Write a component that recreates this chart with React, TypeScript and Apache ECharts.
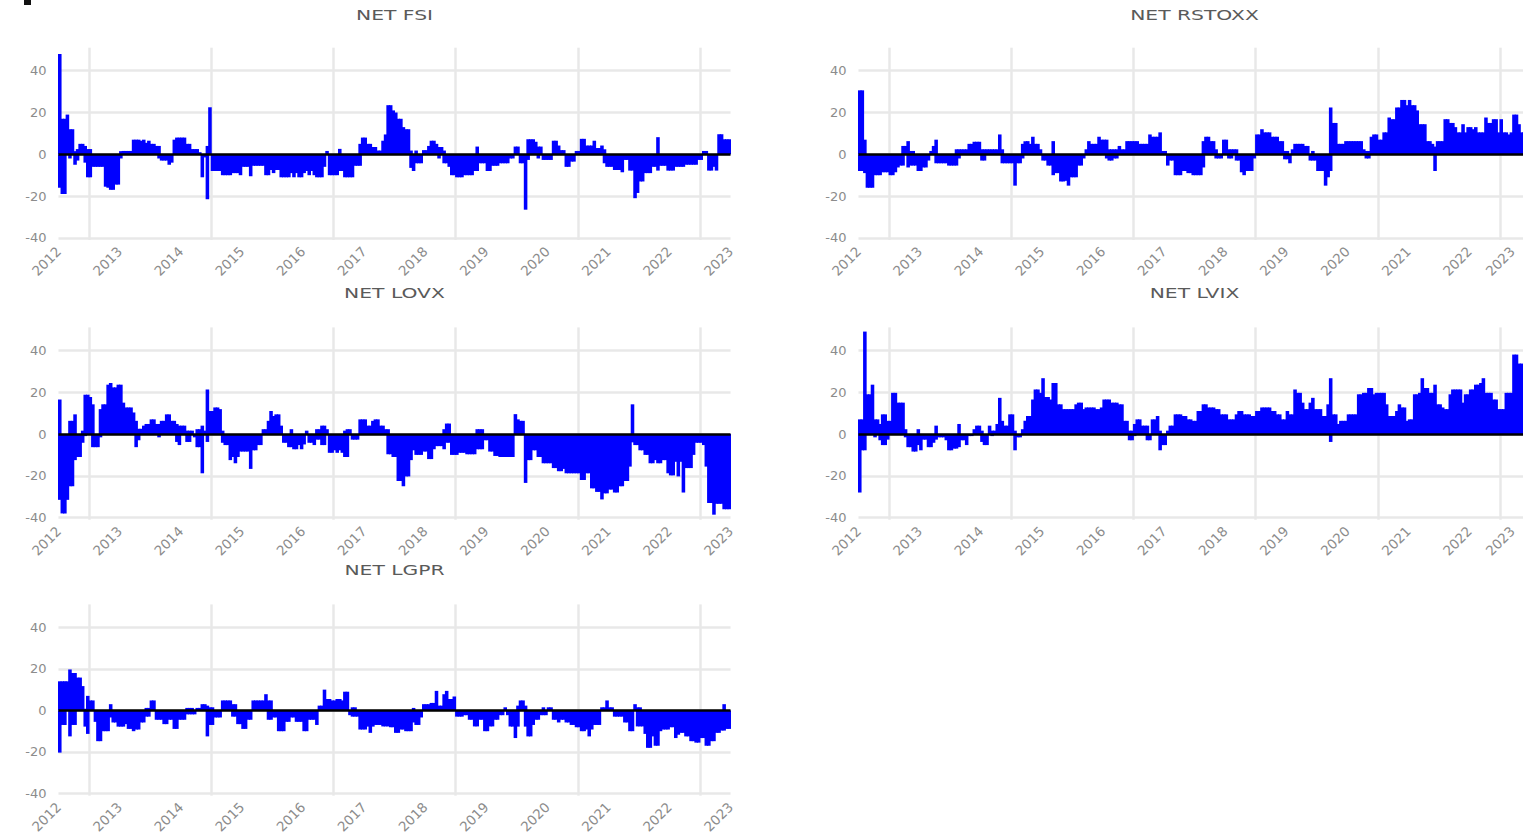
import React, { useEffect, useRef } from 'react';
import * as echarts from 'echarts';

const years = ['2012', '2013', '2014', '2015', '2016', '2017', '2018', '2019', '2020', '2021', '2022', '2023'];
const yTicks = [-40, -20, 0, 20, 40];
const titles = ['NET FSI', 'NET RSTOXX', 'NET LOVX', 'NET LVIX', 'NET LGPR'];
const startYear = 2012;
const periodsPerYear = 24;

// Net values, one per half-month from 2012 to 2023
const netFSI = [
  48, 17, 17, 19, 12, 12, 1.5, 2.5, 5, 5, 4, -11, -11, -6, -6, -6, -6, -6, -15.5, -16, -17, -17, -14.5, -14.5,
  1.5, 1.6, 1.6, 1.6, 1.6, 7, 7, 7, 6.5, 7, 5.5, 6.5, 5, 5, 4, 4, -3, -3, -3, -5, -4, 7, 8, 8,
  8, 8, 5, 5, 2.5, 2.5, 2.5, 1, -11, -1.5, -21.5, 22.5, -8, -8, -8, -8, -10, -10, -10, -10, -9, -9, -9, -10,
  -6, -6, -6, -10.5, -5.5, -5.5, -5.5, -5.5, -5.5, -10, -10, -7.5, -9, -7.5, -7.5, -11, -11, -11, -11, -9, -11, -9, -11, -11,
  -9, -8, -10, -8, -10, -11, -11, -11, -6, 1.6, -10, -10, -10, -10, -8, -8, -11, -11, -11, -11, -5.5, -5.5, 5, 8,
  8, 5, 5, 3.5, 3.5, 1.8, 1.8, 6.5, 9.5, 23.5, 23.5, 21, 20, 17, 17, 13, 12, 12, 1.8, -8, 1.8, -4.3, -4.3, 2,
  2, 4, 6.5, 6.5, 5, 3.5, 3.5, 1.8, -4.3, -6, -10, -10, -11, -11, -11, -10, -10, -10, -10, -8, 3.7, -4.3, -4.3, -4.3,
  -8, -8, -5.5, -5.5, -5.5, -4.3, -4.3, -4.3, -4.3, -2, -2, 3.7, 3.7, -4.3, -4.3, -26.5, 7.2, 7.2, 7.2, 6, 3.7, 3.7, -2.7, -2.7,
  -2.7, -2.7, 6.5, 6.5, 4.2, 2, 2, -6, -6, -3.5, -3.5, 1.6, 1.6, 7.4, 7.4, 4.2, 4.2, 4.2, 6.5, 3, 3, 4.2, 2.4, -6,
  -6, -6, -7.5, -7.5, -7.5, -8.6, -2.7, -2.7, -7.8, -7.8, -21, -18.5, -13, -13, -9, -9, -9, -6, -6, 8.2, -5.5, -5.5, -5.5, -7.8,
  -7.8, -7.8, -6, -6, -6, -6, -5, -5, -5, -5, -5, -2.7, -2.7, 1.6, 1.6, -7.8, -7.8, -6, -7.8, 9.6, 9.6, 7.2, 7.2, 7.2,
];
const netFSIExtra = [
  [0, -16], [1, -19], [2, -19], [4, -2], [6, -5], [7, -3], [10, -4], [11, 2.5], [12, 2.5], [24, -2], [39, -2],
  [58, 4], [110, 2.6], [118, -5.5], [138, -6.5], [140, -4.3], [149, -2], [151, -4.3], [164, -8], [184, -2.7],
  [188, -2], [214, -4.3], [235, -7.8],
];

const netRSTOXX = [
  30.6, 30.6, 7, -16, -16, -16, -10, -10, -10, -8.6, -8.6, -8.6, -10, -10, -8.6, -6.3, -5.4, 4, 4, 6.3, 1.6, 1.6, -5.4, -8,
  -8, -6.3, -6.3, -3, 1.6, 4, 7, -4.3, -4.3, -4.3, -4.3, -5.4, -5.4, -5.4, 2.4, 2.4, 2.4, 2.4, 2.4, 5, 5, 6, 6, 6,
  2.4, 2.4, 2.4, 2.4, 2.4, 2.4, 2.4, 9.5, 2.4, -4.3, -4.3, -4.3, -4.3, -15, -4.3, -4.3, 5, 6.3, 6.3, 5, 8.4, 5, 5, 2.4,
  -3, -3, -5.4, -5.4, 6.3, -9, -9, -13, -13, -12.7, -15, -11, -11, -11, -5.4, -5.4, -2, 2.4, 6.3, 5, 5, 5, 8.4, 7,
  7, 7, 2.4, 2.4, 2.4, 2.4, 4, 2.4, 2.4, 6.3, 6.3, 6.3, 6.3, 6.3, 5, 5, 5, 5, 9.5, 8.4, 8.4, 8.4, 10.5, 1.6,
  1.6, -5.4, -3, -3, -10, -10, -10, -8, -8, -9, -9, -10, -10, -10, -10, 6.3, 8.4, 8.4, 6.3, 6.3, 2.4, -2, -2, 7,
  7, 2.4, 2.4, 2.4, 2.4, -3, -8.6, -10, -8, -8, -8, -2, 9.5, 9.5, 12, 10.5, 10.5, 10.5, 8.4, 8.4, 8.4, 6.3, 6.3, 1.6,
  1.6, -4.3, 2.4, 5, 5, 5, 5, 4, 4, -3, 1.6, -3, -8, -8, -8, -15, -11, 22.4, 15, 15, 5, 5, 5, 6.3,
  6.3, 6.3, 6.3, 6.3, 6.3, 6.3, 2.4, 1.6, 1.6, 8.4, 9.5, 9.5, 7, 7, 10.5, 10.5, 17.6, 16.8, 16.8, 22.4, 22.4, 26, 26, 23.5,
  26, 23.5, 23.5, 21, 14.4, 14.4, 14.4, 6.3, 6.3, 5, 3.7, 6.3, 6.3, 6.3, 16.8, 16.8, 15, 15, 13, 10.5, 10.5, 14.4, 10.5, 13,
  13, 12, 13, 10.5, 10.5, 10.5, 17.6, 15, 15, 16.8, 16.8, 10.5, 16.8, 10.5, 10.5, 9.5, 10.5, 19, 19, 14.4, 10.5, 10.5, 8, 5,
];
const netRSTOXXExtra = [
  [0, -8], [1, -8], [2, -9], [17, -5.4], [19, -6.3], [20, -5.4], [21, -5.4], [30, -4.3], [38, -5.4], [39, -2],
  [48, -3], [49, -3], [56, -4.3], [64, -2], [76, -10], [97, -2], [98, -3], [99, -3], [100, -2], [101, -2],
  [135, -6.3], [140, -2], [145, -2], [146, -2], [148, -3], [167, -2.4], [168, -2.4], [178, -3], [185, -8],
  [199, -2], [200, -2], [226, -8],
];

const netLOVX = [
  16.5, -38, -38, -31.5, -25, -25, -12.5, -11, -11, -4.2, 18.8, 18.8, 17.7, 14.2, -6.3, -6.3, 11.9, 14.2, 14.2, 23.6, 24.4, 22.3, 22.3, 23.6,
  23.6, 15, 12.7, 12.7, 12.7, 10.3, 6.3, 2.5, 2.5, 4, 4.8, 4.8, 7, 7, 4.8, 4.8, 6.3, 6.3, 9.4, 9.4, 6.3, 6.3, 4.8, 4,
  4, 4, 1.6, 1.6, 1.6, -1.6, 2.3, 2.3, -18.8, 1.6, 21.3, 11, 11, 12.7, 12.7, 11.9, 1.6, -5.3, -5.3, -12.5, -11, -14, -11, -8.4,
  -8.4, -8.4, -8.4, -16.7, -7.8, -7.8, -5.3, -5.3, 2.3, 2.3, 6.3, 11, 8.6, 9.4, 9.4, 4, -4.2, -4.2, -6.3, 2.3, -7.3, -7.3, -5.3, -7.3,
  -5, 1.6, -4.2, -4.2, -5.3, 2.3, 2.3, 4, 4, 2.3, -9, -9, -7.8, -9, -7.8, -9, 1.6, 2.3, 2.3, -2.7, -2.7, -2.7, 7, 7,
  7, 4, 4, 6.3, 7, 7, 4, 4, 2.3, 2.3, -9.7, -11, -11, -22.5, -22.5, -25, -20.3, -20.3, -12.5, -7.8, -10, -10, -10, -8.4,
  -8.4, -12, -12, -7.3, -5.8, -5.8, -5.8, 2.3, 5, 5, -10, -10, -10, -9, -9, -9, -9.7, -9.7, -9.7, -9.7, 2.3, 2.3, 2.3, -3,
  -3, -8.4, -8.4, -10.5, -10.5, -11, -11, -11, -11, -11, -11, 9.5, 7, 6.3, 6.3, -23.4, -12.5, -12.5, -7.8, -7.8, -11, -11, -14, -14,
  -14, -14, -16.3, -16.3, -17.8, -17.8, -16.7, -18.8, -18.8, -18.8, -18.8, -18.8, -18.8, -22, -22, -18.8, -18.8, -26, -26, -27.7, -27.7, -31.3, -28.4, -28.4,
  -26.6, -26.6, -28, -28, -25, -25, -22.5, -22.5, -15.6, 14.2, -5.3, -5.3, -7.8, -7.8, -10, -10, -14, -14, -12.5, -14, -14, -12.5, -12.5, -18.8,
  -19.8, -19.8, -13.3, -20.3, -13.3, -28, -16.3, -16.3, -16.3, -10, -4.2, -4.2, -4.2, -5.3, -15.6, -33, -33, -38.6, -33.4, -33.4, -33.4, -36, -36, -36,
];
const netLOVXExtra = [
  [0, -31.5], [4, 6.3], [5, 6.3], [6, 9.4], [9, 1.6], [10, -1], [13, -6.3], [16, -1.6], [30, -6.3], [31, -3],
  [39, -1.6], [46, -3.8], [47, -5.3], [50, -3.8], [51, -3.8], [54, -6.3], [55, -6.3], [56, 4], [58, -3.8], [64, -4.2],
  [91, -6.3], [101, -2.7], [102, -2.7], [103, -5.3], [104, -5.3], [112, -11], [113, -11], [129, -9.7], [151, -7.3],
  [152, -4.2], [153, -4.2], [164, -7.3], [165, -7.3], [166, -7.3], [225, -4],
];

const netLVIX = [
  7, 7, 49, 19, 19, 23.6, 7, 7, 4.8, 9.4, 9.4, 6.3, 6.3, 19.7, 19.7, 15, 15, 15, 2.3, -6.3, -6.3, -8.4, -8.4, 2.3,
  -7.8, -2.7, -2.7, -6.3, -6.3, -4.2, 4, -1.6, -1.6, -1.6, -3, -7.8, -7.8, -7, -7, 4.8, -3, -3, -5.3, -1, -1, 2.3, 4, 4,
  1.6, -5.3, -5.3, 4, 1.6, 1.6, 4.8, 17.3, 6.3, 4, 4, 9.4, 9.4, 1.6, -1.6, -1.6, 2.3, 6.3, 8.6, 8.6, 16.5, 21.3, 21.3, 19.7,
  26.7, 17.7, 17.7, 16.5, 24.4, 24.4, 14.2, 14.2, 11.9, 11.9, 11.9, 11.9, 11.9, 14.2, 15, 15, 11.9, 12.7, 12.7, 12.7, 12.7, 11.9, 11.9, 12.7,
  16.5, 16.5, 16.5, 15, 15, 15, 14.2, 14.2, 6.3, 6.3, 1.6, 1.6, 4.8, 7, 7, 4, 4, 4, -3, 7, 7, 8.6, 1.6, -5.3,
  -5.3, 1.6, 4, 4, 9.4, 9.4, 9.4, 8.6, 8.6, 7, 7, 6.3, 6.3, 11, 11, 14.2, 14.2, 12.7, 12.7, 12.7, 11.9, 11.9, 9.4, 9.4,
  9.4, 7, 7, 7, 9.4, 11, 11, 9.4, 9.4, 9.4, 8.6, 8.6, 11, 11, 12.7, 12.7, 12.7, 12.7, 11, 11, 9.4, 9.4, 7, 7,
  11, 9.4, 9.4, 21.3, 19.7, 19.7, 15, 11.9, 11.9, 15, 17.3, 11.9, 11.9, 11.9, 8.6, 8.6, 14.2, 26.7, 9.4, 9.4, 4.8, 6.3, 6.3, 6.3,
  9.4, 9.4, 9.4, 9.4, 19, 19, 19.7, 19.7, 22, 22, 19, 19.7, 19.7, 19.7, 19.7, 14.2, 8.6, 8.6, 8.6, 11, 14.2, 12.7, 12.7, 6.3,
  7, 7, 19, 19, 19.7, 26.7, 22, 22, 19.7, 19.7, 23.6, 14.2, 14.2, 12.7, 11.9, 11.9, 19, 21.3, 21.3, 21.3, 21.3, 15, 19, 19,
  21.3, 21.3, 23.6, 23.6, 24.4, 26.7, 19.7, 19.7, 19.7, 16.5, 16.5, 11.9, 11.9, 11.9, 19.7, 19.7, 19.7, 38, 38, 33.7, 33.7, 21.3, 21.3, 20,
];
const netLVIXExtra = [
  [0, -28], [1, -7.8], [2, -7.8], [6, -1.6], [8, -3], [9, -5.3], [10, -5.3], [11, -2.7], [18, -1.6], [23, -5.3],
  [30, -2.7], [39, -6.3], [48, -3.8], [52, -1], [61, -7.8], [106, -3], [107, -3], [108, -1], [113, -3], [118, -7.8],
  [185, -3.8],
];

const netLGPR = [
  14, 14, 14, 14, 19.7, 18, 18, 15.8, 15.8, 11.7, 0.8, 7, 4.8, 4.8, -5.5, -14.8, -14.8, -10, -10, -10, 3, -5.8, -5.8, -7.8,
  -7.8, -7.8, -6.6, -8.9, -8.9, -10, -9.2, -9.2, -5.8, -5.8, 1.2, 1.2, 4.8, 4.8, -4.5, -4.5, -4.5, -6.6, -6.6, -4.5, -4.5, -8.9, -8.9, -4.5,
  -4.5, -4.5, 1.2, 1.2, 1.2, -1.9, 1.2, 1.2, 3, 3, 2.3, 1.5, 1.5, -3.4, -3.4, -3.4, 4.8, 4.8, 4.8, 4.8, 3, 3, -6.6, -6.6,
  -8.9, -8.9, -4.5, -4.5, 4.8, 4.8, 4.8, 4.8, 4.8, 7.8, 4.8, 4.8, -3.4, -3.4, -10, -10, -10, -5.5, -5.5, -3.4, -3.4, -5.5, -5.5, -5.5,
  -10, -10, -4.5, -4.5, -4.5, -7, 2.3, 2.3, 10, 5.5, 5.5, 4.8, 4.8, 5.5, 5.5, 4.8, 9, 9, -2.3, 1.5, 1.5, -3, -9.2, -9.2,
  -9.2, -7.8, -10.8, -7.8, -7, -7, -7, -7.7, -7.7, -7.7, -8.1, -8.1, -10.8, -10.8, -9.2, -9.2, -10, -10, -10, 1.2, -7, -7, -3.4, 3,
  3, 3, 3.6, 3.6, 9.4, 2.3, 2.3, 7.8, 9.4, 5.5, 5.5, 6.7, -3, -3, -3, -2.3, -2.3, -4.5, -4.5, -7.7, -7.7, -4.5, -4.5, -10,
  -10, -7.7, -7.7, -4.5, -4.5, -2.3, -2.3, 1.5, -2.3, -7.8, -7.8, -13.3, 2.3, 4.8, 4.8, 2.3, -12.5, -12.5, -7, -4.5, -4.5, -2.3, 1.5, -2.3,
  1.5, 1.5, -4.5, -4.5, -5.8, -4.5, -4.5, -5.8, -5.8, -7, -7, -8.1, -8.1, -10, -10, -9.2, -12.5, -9.2, -7, -7, -7, 1.5, 1.5, 4.8,
  1.5, 1.5, -3, -3, -3, -3, -5.8, -5.8, -10, -10, 3, 1.5, 1.5, -7.7, -11.3, -18, -18, -12.5, -17, -17, -10, -9.2, -9.2, -9.2,
  -8.1, -8.1, -13.3, -11.7, -10.8, -10.8, -12.5, -12.5, -14.8, -14.8, -15.5, -15.5, -13.3, -13.3, -17, -17, -14.8, -14.8, -10.8, -10.8, -9.7, 3, -8.9, -8.9,
];
const netLGPRExtra = [
  [0, -20.3], [1, -7], [2, -7], [4, -12.5], [5, -7], [6, -7], [10, -7.8], [11, -11.3], [20, -3.4], [34, -3], [35, -3],
  [50, -1.9], [51, -1.9], [52, -1.9], [58, -12.5], [59, -7], [60, -7], [68, -3], [69, -3], [82, -4.5], [83, -4.5],
  [115, -3], [116, -3], [139, -5.8], [180, -7.8], [183, -7.8], [190, -2.3], [227, -7.7], [228, -7.7], [261, -9.7],
];

const seriesValues = [netFSI, netRSTOXX, netLOVX, netLVIX, netLGPR];
const seriesExtras = [netFSIExtra, netRSTOXXExtra, netLOVXExtra, netLVIXExtra, netLGPRExtra];

const panelLayout = [
  { left: 58.5, top: 47.7, titleY: 15, lastLabel: 2023 },
  { left: 858.5, top: 47.7, titleY: 15, lastLabel: 2022.7 },
  { left: 58.5, top: 327.4, titleY: 293, lastLabel: 2023 },
  { left: 858.5, top: 327.4, titleY: 293, lastLabel: 2022.7 },
  { left: 58.5, top: 604.4, titleY: 570, lastLabel: 2023 },
];
const PANEL_W = 672;
const PANEL_H = 192.3;

const periodX = (i: number) => startYear + (i + 0.5) / periodsPerYear;
const gridYears = [2012.5, 2014.5, 2016.5, 2018.5, 2020.5, 2022.5];

const FONT = 'DejaVu Sans';

function buildData(values: number[], extras: number[][]) {
  const d: number[][] = values.map((v, i) => [periodX(i), v]);
  extras.forEach(([i, v]) => d.push([periodX(i), v]));
  return d;
}

export default function App() {
  const ref = useRef<HTMLDivElement>(null);
  useEffect(() => {
    if (!ref.current) return;
    const chart = echarts.init(ref.current, undefined, { renderer: 'svg' });
    const grid: any[] = [];
    const xAxis: any[] = [];
    const yAxis: any[] = [];
    const series: any[] = [];
    const graphic: any[] = [
      { type: 'rect', left: 24, top: 0, shape: { width: 7, height: 5 }, style: { fill: '#111' } },
    ];
    panelLayout.forEach((p, k) => {
      const labelValues = years.map((y, j) => (j === years.length - 1 ? p.lastLabel : Number(y)));
      grid.push({ left: p.left, top: p.top, width: PANEL_W, height: PANEL_H, containLabel: false });
      graphic.push({
        type: 'text',
        x: p.left + PANEL_W / 2,
        y: p.titleY,
        scaleX: 1.45,
        style: {
          text: titles[k],
          fill: '#5a5a5a',
          font: `14px "${FONT}"`,
          textAlign: 'center',
          textVerticalAlign: 'middle',
        },
      });
      xAxis.push({
        type: 'value',
        gridIndex: k,
        min: 2012,
        max: 2023,
        axisLine: { show: false },
        axisTick: { show: false, customValues: gridYears },
        axisLabel: {
          customValues: labelValues,
          formatter: (v: number) => years[Math.round(v - startYear)] ?? '',
          rotate: 45,
          margin: 9,
          color: '#8c8c8c',
          fontFamily: FONT,
          fontSize: 13.5,
        },
        splitLine: { show: true, lineStyle: { color: '#e8e8e8', width: 2.5 } },
      });
      yAxis.push({
        type: 'value',
        gridIndex: k,
        min: -41,
        max: 51,
        axisLine: { show: false },
        axisTick: { show: false, customValues: yTicks },
        axisLabel: {
          customValues: yTicks,
          margin: 12,
          color: '#8c8c8c',
          fontFamily: FONT,
          fontSize: 13,
        },
        splitLine: { show: true, lineStyle: { color: '#e8e8e8', width: 2.5 } },
      });
      series.push({
        type: 'bar',
        xAxisIndex: k,
        yAxisIndex: k,
        data: buildData(seriesValues[k], seriesExtras[k]),
        barCategoryGap: '-40%',
        itemStyle: { color: '#0000ff' },
        markLine: {
          silent: true,
          symbol: 'none',
          label: { show: false },
          lineStyle: { color: '#000', width: 2.5, type: 'solid' },
          data: [{ yAxis: 0 }],
        },
      });
    });
    chart.setOption({
      animation: false,
      backgroundColor: '#fff',
      grid,
      xAxis,
      yAxis,
      series,
      graphic,
    });
    return () => chart.dispose();
  }, []);
  return (
    <div style={{ position: 'absolute', left: 0, top: 0, width: 1523, height: 836, overflow: 'hidden' }}>
      <div ref={ref} style={{ width: 1545, height: 836 }} />
    </div>
  );
}
